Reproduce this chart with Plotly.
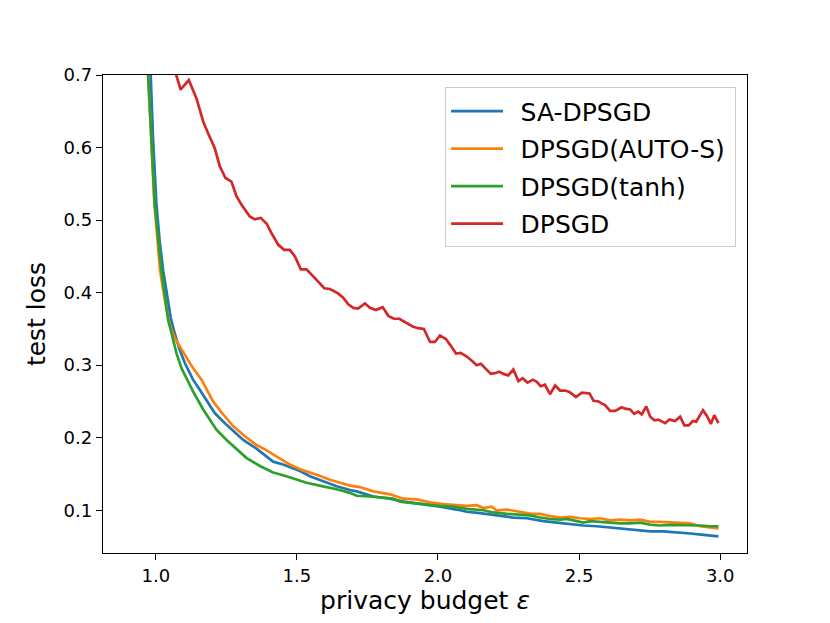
import plotly.graph_objects as go

# values
sa_x = [0.917, 0.95, 0.982, 0.990, 1.002, 1.014, 1.026, 1.039, 1.053, 1.067,
        1.085, 1.103, 1.132, 1.156, 1.185, 1.209, 1.245, 1.280, 1.310, 1.357,
        1.416, 1.451, 1.511, 1.546, 1.593, 1.641, 1.688, 1.712, 1.771, 1.830,
        1.877, 1.936, 2.007, 2.066, 2.102, 2.149, 2.184, 2.220, 2.267, 2.315,
        2.373, 2.421, 2.468, 2.515, 2.563, 2.610, 2.657, 2.705, 2.752, 2.799,
        2.846, 2.894, 2.941, 2.976, 2.994]
sa_y = [1.55, 1.02, 0.70, 0.615, 0.523, 0.47, 0.431, 0.40, 0.365, 0.344,
        0.321, 0.303, 0.280, 0.266, 0.248, 0.234, 0.220, 0.207, 0.197, 0.185,
        0.167, 0.163, 0.154, 0.147, 0.140, 0.133, 0.128, 0.126, 0.119, 0.116,
        0.112, 0.109, 0.105, 0.101, 0.098, 0.096, 0.094, 0.092, 0.090, 0.089,
        0.085, 0.083, 0.081, 0.079, 0.078, 0.076, 0.074, 0.072, 0.071, 0.071,
        0.070, 0.068, 0.066, 0.065, 0.064]

auto_x = [0.917, 0.95, 0.973, 0.984, 0.995, 1.015, 1.032, 1.050, 1.067, 1.085,
          1.109, 1.132, 1.162, 1.180, 1.203, 1.239, 1.274, 1.316, 1.357, 1.387,
          1.428, 1.475, 1.522, 1.570, 1.617, 1.652, 1.688, 1.723, 1.771, 1.830,
          1.877, 1.924, 1.972, 2.031, 2.102, 2.137, 2.161, 2.190, 2.208, 2.244,
          2.279, 2.326, 2.362, 2.397, 2.433, 2.468, 2.504, 2.539, 2.574, 2.610,
          2.645, 2.681, 2.716, 2.752, 2.787, 2.823, 2.858, 2.894, 2.929, 2.965,
          2.994]
auto_y = [1.45, 0.97, 0.70, 0.615, 0.523, 0.431, 0.390, 0.355, 0.338, 0.326,
          0.310, 0.296, 0.280, 0.266, 0.250, 0.232, 0.216, 0.202, 0.190, 0.184,
          0.174, 0.163, 0.155, 0.149, 0.142, 0.138, 0.134, 0.132, 0.126, 0.122,
          0.116, 0.115, 0.111, 0.108, 0.106, 0.107, 0.103, 0.105, 0.100, 0.101,
          0.099, 0.0955, 0.095, 0.092, 0.090, 0.091, 0.089, 0.088, 0.089, 0.086,
          0.087, 0.086, 0.087, 0.084, 0.084, 0.083, 0.083, 0.082, 0.078, 0.076,
          0.075]

tanh_x = [0.917, 0.95, 0.973, 0.985, 0.996, 1.020, 1.044, 1.056, 1.073, 1.091,
          1.132, 1.168, 1.198, 1.215, 1.251, 1.286, 1.322, 1.369, 1.416, 1.463,
          1.499, 1.534, 1.593, 1.641, 1.688, 1.712, 1.759, 1.806, 1.841, 1.865,
          1.912, 1.960, 2.007, 2.054, 2.102, 2.161, 2.196, 2.244, 2.291, 2.326,
          2.362, 2.397, 2.433, 2.456, 2.480, 2.515, 2.539, 2.574, 2.610, 2.645,
          2.681, 2.716, 2.752, 2.787, 2.823, 2.858, 2.894, 2.929, 2.965, 2.994]
tanh_y = [1.45, 0.96, 0.70, 0.615, 0.523, 0.431, 0.362, 0.344, 0.317, 0.296,
          0.264, 0.239, 0.220, 0.211, 0.197, 0.184, 0.172, 0.161, 0.152, 0.147,
          0.142, 0.138, 0.133, 0.129, 0.124, 0.120, 0.119, 0.117, 0.116, 0.112,
          0.110, 0.108, 0.106, 0.105, 0.102, 0.100, 0.097, 0.095, 0.094, 0.093,
          0.090, 0.088, 0.087, 0.088, 0.086, 0.083, 0.085, 0.084, 0.084, 0.082,
          0.082, 0.083, 0.080, 0.079, 0.080, 0.080, 0.080, 0.079, 0.078, 0.078]

dp_x = [0.917, 0.99, 1.04, 1.057, 1.088, 1.117, 1.144, 1.168, 1.185, 1.209,
        1.227, 1.247, 1.268, 1.286, 1.304, 1.333, 1.351, 1.372, 1.393, 1.410,
        1.434, 1.455, 1.475, 1.493, 1.514, 1.534, 1.564, 1.597, 1.617, 1.646,
        1.664, 1.682, 1.700, 1.717, 1.741, 1.759, 1.780, 1.804, 1.824, 1.844,
        1.863, 1.889, 1.912, 1.930, 1.950, 1.972, 1.989, 2.007, 2.028, 2.045,
        2.064, 2.080, 2.102, 2.120, 2.137, 2.152, 2.170, 2.187, 2.202, 2.217,
        2.232, 2.249, 2.267, 2.285, 2.300, 2.317, 2.336, 2.350, 2.364, 2.379,
        2.397, 2.415, 2.433, 2.450, 2.466, 2.489, 2.510, 2.537, 2.551, 2.569,
        2.581, 2.592, 2.610, 2.628, 2.651, 2.663, 2.681, 2.695, 2.710, 2.722,
        2.738, 2.752, 2.767, 2.781, 2.805, 2.820, 2.840, 2.858, 2.873, 2.888,
        2.903, 2.915, 2.939, 2.953, 2.967, 2.979, 2.994]
dp_y = [1.10, 0.88, 0.77, 0.72, 0.680, 0.693, 0.668, 0.636, 0.620, 0.599,
        0.574, 0.558, 0.553, 0.533, 0.521, 0.505, 0.501, 0.503, 0.495, 0.482,
        0.466, 0.459, 0.459, 0.450, 0.432, 0.432, 0.420, 0.406, 0.405, 0.399,
        0.393, 0.384, 0.379, 0.378, 0.385, 0.379, 0.376, 0.380, 0.368, 0.364,
        0.364, 0.358, 0.353, 0.351, 0.350, 0.332, 0.332, 0.341, 0.336, 0.327,
        0.316, 0.317, 0.312, 0.306, 0.300, 0.302, 0.294, 0.288, 0.289, 0.291,
        0.288, 0.286, 0.294, 0.278, 0.282, 0.276, 0.280, 0.277, 0.271, 0.273,
        0.260, 0.272, 0.265, 0.265, 0.263, 0.256, 0.262, 0.261, 0.251, 0.250,
        0.247, 0.245, 0.237, 0.237, 0.242, 0.240, 0.239, 0.233, 0.236, 0.232,
        0.243, 0.229, 0.224, 0.225, 0.220, 0.225, 0.223, 0.229, 0.217, 0.217,
        0.223, 0.222, 0.238, 0.230, 0.219, 0.231, 0.220]

x_ticks = [1.0, 1.5, 2.0, 2.5, 3.0]
y_ticks = [0.1, 0.2, 0.3, 0.4, 0.5, 0.6, 0.7]

series = [
    ('SA-DPSGD', sa_x, sa_y, '#1f77b4'),
    ('DPSGD(AUTO-S)', auto_x, auto_y, '#ff7f0e'),
    ('DPSGD(tanh)', tanh_x, tanh_y, '#2ca02c'),
    ('DPSGD', dp_x, dp_y, '#d62728'),
]

fig = go.Figure()
for name, xs, ys, col in series:
    # en space in front of the name gives the wider gap after the legend line,
    # thin space after it a bit more room on the right of the box
    fig.add_trace(go.Scatter(x=xs, y=ys, mode='lines', name='\u2002' + name + '\u2009',
                             legendgroup=name,
                             line=dict(color=col, width=2.7)))

axis_style = dict(showline=True, mirror=True, linecolor='black', linewidth=1.4,
                  ticks='outside', ticklen=6, tickwidth=1.4, tickcolor='black',
                  showgrid=False, zeroline=False,
                  tickfont=dict(size=18, color='black'))

fig.update_xaxes(range=[0.813, 3.095], tickvals=x_ticks, tickformat='.1f',
                 title=dict(text='privacy budget <i>ε</i>', font=dict(size=25, color='black'), standoff=5),
                 **axis_style)
fig.update_yaxes(range=[0.0411, 0.7], tickvals=y_ticks, tickformat='.1f',
                 title=dict(text='test loss', font=dict(size=25, color='black'), standoff=10),
                 **axis_style)

# the page body adds 8px on the left and top, so margins are shifted by that
fig.update_layout(
    width=830, height=623,
    margin=dict(l=95, r=91, t=67, b=78),
    paper_bgcolor='white', plot_bgcolor='white',
    font=dict(family='DejaVu Sans', color='black'),
    legend=dict(x=0.983, y=0.974, xanchor='right', yanchor='top',
                bgcolor='rgba(255,255,255,0.8)', bordercolor='#cccccc', borderwidth=1,
                font=dict(size=25, color='black'), itemwidth=52,
                tracegroupgap=2),
)

fig.write_html("out.html")
